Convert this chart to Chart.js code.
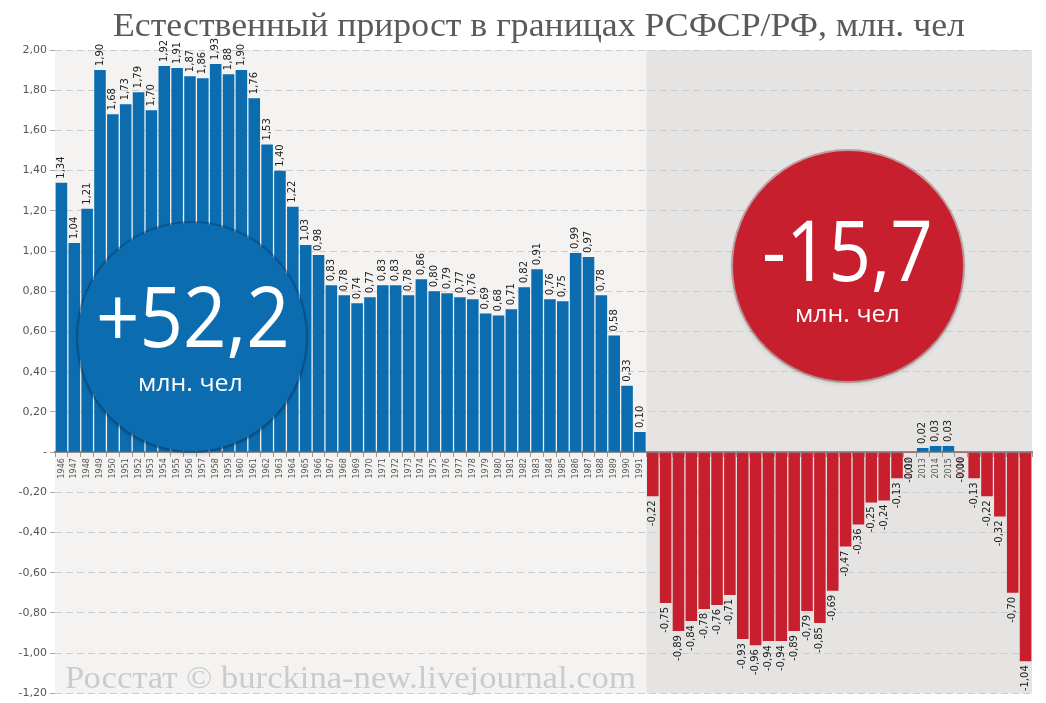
<!DOCTYPE html>
<html>
<head>
<meta charset="UTF-8">
<title>Естественный прирост в границах РСФСР/РФ</title>
<script src="https://cdn.jsdelivr.net/npm/chart.js@4.4.0/dist/chart.umd.min.js"></script>
<style>
    html, body { margin: 0; padding: 0; background: #fff; }
    #wrap { position: relative; width: 1046px; height: 703px; overflow: hidden; }
    #chart { position: absolute; left: 0; top: 0; }
    .txt { position: absolute; white-space: nowrap; line-height: 1; transform-origin: 0 0; }
    .circle { position: absolute; border-radius: 50%; }
    #blueCircle { background: #0b6db0; box-shadow: 0 0 0 2px rgba(4,60,110,0.45), 0 2px 5px rgba(0,0,0,0.25); }
    #redCircle { background: #c81f2f; box-shadow: 0 0 0 2px rgba(120,10,20,0.3), 0 2px 5px rgba(0,0,0,0.2); }
</style>
</head>
<body>
<div id="wrap">
    <canvas id="chart" width="1046" height="703"></canvas>
    <div class="circle" id="blueCircle"></div>
    <div class="circle" id="redCircle"></div>
    <div class="txt" id="title">Естественный прирост в границах РСФСР/РФ, млн. чел</div>
    <div class="txt" id="blueBig">+52,2</div>
    <div class="txt" id="blueSmall">млн. чел</div>
    <div class="txt" id="redBig">-15,7</div>
    <div class="txt" id="redSmall">млн. чел</div>
    <div class="txt" id="source">Росстат © burckina-new.livejournal.com</div>
</div>
<script>
    // years 1946-2021
    var years = ['1946','1947','1948','1949','1950','1951','1952','1953','1954','1955',
        '1956','1957','1958','1959','1960','1961','1962','1963','1964','1965',
        '1966','1967','1968','1969','1970','1971','1972','1973','1974','1975',
        '1976','1977','1978','1979','1980','1981','1982','1983','1984','1985',
        '1986','1987','1988','1989','1990','1991','1992','1993','1994','1995',
        '1996','1997','1998','1999','2000','2001','2002','2003','2004','2005',
        '2006','2007','2008','2009','2010','2011','2012','2013','2014','2015',
        '2016','2017','2018','2019','2020','2021'];

    // РСФСР 1946-1991, млн. чел
    var rsfsrValues = [1.34, 1.04, 1.21, 1.90, 1.68, 1.73, 1.79, 1.70, 1.92, 1.91,
        1.87, 1.86, 1.93, 1.88, 1.90, 1.76, 1.53, 1.40, 1.22, 1.03,
        0.98, 0.83, 0.78, 0.74, 0.77, 0.83, 0.83, 0.78, 0.86, 0.80,
        0.79, 0.77, 0.76, 0.69, 0.68, 0.71, 0.82, 0.91, 0.76, 0.75,
        0.99, 0.97, 0.78, 0.58, 0.33, 0.10];

    // РФ 1992-2021, млн. чел
    var rfValues = [-0.22, -0.75, -0.89, -0.84, -0.78, -0.76, -0.71, -0.93, -0.96, -0.94,
        -0.94, -0.89, -0.79, -0.85, -0.69, -0.47, -0.36, -0.25, -0.24, -0.13,
        -0.004, 0.02, 0.03, 0.03, -0.002, -0.13, -0.22, -0.32, -0.70, -1.04];

    var yTicksMin = -1.2;
    var yTicksMax = 2.0;
    var yStep = 0.2;

    var values = rsfsrValues.concat(rfValues);
    var splitIndex = rsfsrValues.length; // first year of РФ

    var blue = '#0b6db0';
    var red = '#c81f2f';

    function fmt(v) {
        if (Math.abs(v) < 1e-9) return '-';
        return v.toFixed(2).replace('.', ',');
    }

    // backgrounds: light for РСФСР, grey for РФ
    var bgPlugin = {
        id: 'bgPlugin',
        beforeDraw: function(chart) {
            var ctx = chart.ctx, a = chart.chartArea;
            var xs = chart.scales.x;
            var split = xs.getPixelForValue(splitIndex - 0.5);
            ctx.save();
            ctx.fillStyle = '#f4f3f1';
            ctx.fillRect(a.left, a.top, split - a.left, a.bottom - a.top);
            ctx.fillStyle = '#e5e4e2';
            ctx.fillRect(split, a.top, a.right - split, a.bottom - a.top);
            ctx.restore();
        }
    };

    // rotated value labels on bar ends
    var valueLabels = {
        id: 'valueLabels',
        afterDatasetsDraw: function(chart) {
            var ctx = chart.ctx;
            var meta = chart.getDatasetMeta(0);
            ctx.save();
            ctx.font = '10px "DejaVu Sans"';
            ctx.fillStyle = '#222';
            ctx.textBaseline = 'middle';
            meta.data.forEach(function(bar, i) {
                var v = values[i];
                ctx.save();
                ctx.translate(bar.x, v >= 0 ? bar.y - 4 : bar.y + 4);
                ctx.rotate(-Math.PI / 2);
                ctx.textAlign = v >= 0 ? 'left' : 'right';
                ctx.fillText(fmt(v), 0, 0);
                ctx.restore();
            });
            ctx.restore();
        }
    };

    var ctx = document.getElementById('chart').getContext('2d');
    var chart = new Chart(ctx, {
        type: 'bar',
        data: {
            labels: years,
            datasets: [{
                data: values,
                backgroundColor: values.map(function(v) { return v >= 0 ? blue : red; }),
                borderWidth: 0,
                barPercentage: 1,
                categoryPercentage: 0.9
            }]
        },
        options: {
            responsive: false,
            animation: false,
            layout: { padding: { left: 0, top: 50, right: 14, bottom: 3 } },
            plugins: {
                legend: { display: false },
                tooltip: { enabled: false },
                title: { display: false }
            },
            scales: {
                x: {
                    position: { y: 0 },
                    z: 1,
                    offset: true,
                    ticks: {
                        autoSkip: false,
                        maxRotation: 90,
                        minRotation: 90,
                        padding: 2,
                        font: { family: 'DejaVu Sans', size: 8 },
                        color: function(c) { return values[c.index] < 0 ? 'rgba(110,10,20,0.75)' : '#555'; }
                    },
                    grid: { offset: true, drawOnChartArea: false, tickLength: 4, color: '#999' },
                    border: { display: true, color: '#8c8c8c', width: 2 }
                },
                y: {
                    min: yTicksMin,
                    max: yTicksMax,
                    ticks: {
                        stepSize: yStep,
                        padding: 3,
                        font: { family: 'DejaVu Sans', size: 11 },
                        color: '#555',
                        callback: function(v) { return fmt(v); }
                    },
                    grid: { color: '#cccccc', tickColor: '#aaa', tickLength: 5, tickBorderDash: [] },
                    border: { display: false, dash: [7, 4] },
                    afterFit: function(s) { s.width = 55; }
                }
            }
        },
        plugins: [bgPlugin, valueLabels]
    });

    // overlay text placement
    function place(id, opts) {
        var el = document.getElementById(id);
        el.style.fontFamily = opts.family;
        el.style.fontSize = opts.size + 'px';
        el.style.color = opts.color;
        var w = el.offsetWidth;
        var k = (opts.right - opts.left) / w;
        el.style.left = opts.left + 'px';
        el.style.top = (opts.baseline - opts.asc * opts.size) + 'px';
        el.style.transform = 'scaleX(' + k + ')';
    }
    function circle(id, cx, cy, r) {
        var el = document.getElementById(id);
        el.style.left = (cx - r) + 'px';
        el.style.top = (cy - r) + 'px';
        el.style.width = (2 * r) + 'px';
        el.style.height = (2 * r) + 'px';
    }
    circle('blueCircle', 192, 337, 114);
    circle('redCircle', 848, 266, 115);

    var serifAsc = 0.8375, sansAsc = 0.888;
    place('title', { family: '"Liberation Serif"', size: 34, color: '#5a5a5a', left: 113, right: 965, baseline: 36, asc: serifAsc });
    place('source', { family: '"Liberation Serif"', size: 32, color: '#cbcbcb', left: 65, right: 636, baseline: 688, asc: serifAsc });
    place('blueBig', { family: '"Open Sans"', size: 84, color: '#fff', left: 96, right: 290, baseline: 348, asc: sansAsc });
    place('blueSmall', { family: '"Open Sans"', size: 24, color: '#fff', left: 138, right: 243, baseline: 391, asc: sansAsc });
    place('redBig', { family: '"Open Sans"', size: 84, color: '#fff', left: 762, right: 933, baseline: 282, asc: sansAsc });
    place('redSmall', { family: '"Open Sans"', size: 24, color: '#fff', left: 795, right: 900, baseline: 322, asc: sansAsc });
</script>
</body>
</html>
